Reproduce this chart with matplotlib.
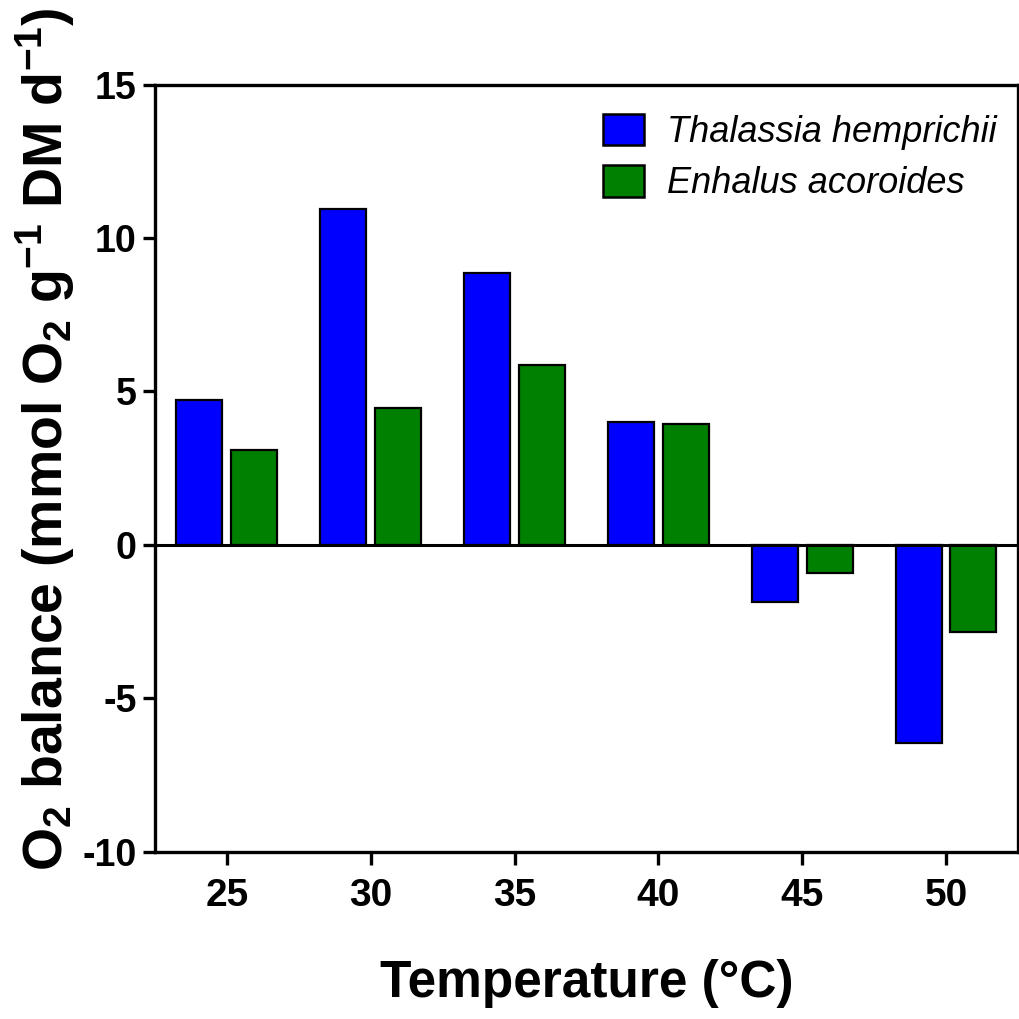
import matplotlib
matplotlib.use("Agg")
import matplotlib.pyplot as plt
import numpy as np

# Temperatures (°C) and O2 balance (mmol O2 g-1 DM d-1) per species
temperatures = ["25", "30", "35", "40", "45", "50"]
thalassia = [4.73, 10.94, 8.85, 3.99, -1.85, -6.44]
enhalus = [3.08, 4.45, 5.87, 3.93, -0.92, -2.83]
series_names = ["Thalassia hemprichii", "Enhalus acoroides"]
y_ticks = [-10, -5, 0, 5, 10, 15]

plt.rcParams["mathtext.default"] = "regular"
font = ["Liberation Sans", "DejaVu Sans"]

fig = plt.figure(figsize=(10.19, 10.19), dpi=100)
ax = fig.add_axes([0.152, 0.164, 0.847, 0.753])

x = np.arange(len(temperatures))
width = 0.32
offset = 0.19
ax.bar(x - offset, thalassia, width, color="#0000FF", edgecolor="black",
       linewidth=1.6, label=series_names[0], zorder=2)
ax.bar(x + offset, enhalus, width, color="#008000", edgecolor="black",
       linewidth=1.6, label=series_names[1], zorder=2)
ax.axhline(0, color="black", linewidth=2.2, zorder=3)

ax.set_xlim(-0.5, 5.5)
ax.set_ylim(-10, 15)
ax.set_xticks(x)
ax.set_xticklabels(temperatures, family=font, fontweight="bold", fontsize=28)
ax.set_yticks(y_ticks)
ax.set_yticklabels([str(v) for v in y_ticks], family=font, fontweight="bold", fontsize=27)

for side in ["left", "bottom", "top", "right"]:
    ax.spines[side].set_linewidth(2.4)
ax.tick_params(axis="both", direction="out", length=9, width=2.4, top=False, right=False)
ax.tick_params(axis="x", pad=10)
ax.tick_params(axis="y", pad=4)

ax.set_xlabel("Temperature (°C)", family=font, fontweight="bold", fontsize=37)
ax.xaxis.set_label_coords(0.5, -0.14)
ax.set_ylabel(r"O$_{2}$ balance (mmol O$_{2}$ g$^{-1}$ DM d$^{-1}$)",
              family=font, fontweight="bold", fontsize=40)
ax.yaxis.set_label_coords(-0.09, 0.538)

leg = ax.legend(loc="upper left", bbox_to_anchor=(0.519, 0.962), frameon=False,
                prop={"family": font, "style": "italic", "size": 26},
                handlelength=1.13, handleheight=0.97, handletextpad=0.66,
                labelspacing=0.42, borderpad=0, borderaxespad=0)
for patch in leg.get_patches():
    patch.set_linewidth(1.8)

fig.savefig("out.png", dpi=100)
